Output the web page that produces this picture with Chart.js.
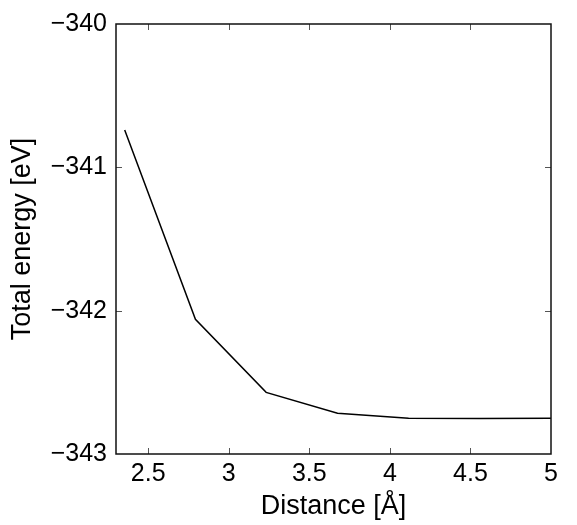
<!DOCTYPE html>
<html>
<head>
<meta charset="utf-8">
<script src="https://cdn.jsdelivr.net/npm/chart.js@4/dist/chart.umd.min.js"></script>
<style>
  html, body { margin: 0; padding: 0; background: #ffffff; }
  #wrap { width: 577px; height: 525px; }
</style>
</head>
<body>
<div id="wrap"><canvas id="c" width="577" height="525"></canvas></div>
<script>
const distances = [2.354, 2.793, 3.232, 3.675, 4.116, 4.557, 5.0];
const energies = [-340.74, -342.06, -342.57, -342.715, -342.75, -342.752, -342.75];
const xTicks = [2.5, 3, 3.5, 4, 4.5, 5];
const yTicks = [-343, -342, -341, -340];
const xTitle = "Distance [Å]";
const yTitle = "Total energy [eV]";

const fmt = v => (v < 0 ? "\u2212" + String(Math.abs(v)) : String(v));

const framePlugin = {
  id: 'frame',
  afterDatasetsDraw(chart) {
    const ctx = chart.ctx;
    const a = chart.chartArea;
    const xs = chart.scales.x, ys = chart.scales.y;
    ctx.save();
    ctx.strokeStyle = '#555555';
    ctx.lineWidth = 1;
    const L = 6;
    xs.ticks.forEach((t, i) => {
      const px = Math.round(xs.getPixelForTick(i)) + 0.5;
      if (px < a.left + 2 || px > a.right - 2) return;
      ctx.beginPath();
      ctx.moveTo(px, a.bottom); ctx.lineTo(px, a.bottom - L);
      ctx.moveTo(px, a.top); ctx.lineTo(px, a.top + L);
      ctx.stroke();
    });
    ys.ticks.forEach((t, i) => {
      const py = Math.round(ys.getPixelForTick(i)) + 0.5;
      if (py < a.top + 2 || py > a.bottom - 2) return;
      ctx.beginPath();
      ctx.moveTo(a.left, py); ctx.lineTo(a.left + L, py);
      ctx.moveTo(a.right, py); ctx.lineTo(a.right - L, py);
      ctx.stroke();
    });
    ctx.strokeStyle = '#111111';
    ctx.lineWidth = 1.5;
    ctx.strokeRect(a.left, a.top, a.right - a.left, a.bottom - a.top);
    ctx.restore();
  }
};

new Chart(document.getElementById('c'), {
  type: 'line',
  data: {
    datasets: [{
      data: distances.map((d, i) => ({ x: d, y: energies[i] })),
      borderColor: '#000000',
      borderWidth: 1.5,
      pointRadius: 0,
      tension: 0,
      fill: false
    }]
  },
  options: {
    responsive: false,
    animation: false,
    devicePixelRatio: 1,
    layout: { padding: { top: 21, right: 26, bottom: 0, left: 0 } },
    plugins: { legend: { display: false }, tooltip: { enabled: false } },
    scales: {
      x: {
        type: 'linear',
        min: 2.3, max: 5,
        afterBuildTicks: s => { s.ticks = xTicks.map(v => ({ value: v })); },
        afterFit: s => { s.height = 71; },
        grid: { display: false, drawTicks: false },
        border: { display: false },
        ticks: {
          color: '#000000',
          font: { family: 'Liberation Sans, Arial, sans-serif', size: 25 },
          padding: 5,
          maxRotation: 0,
          autoSkip: false,
          callback: v => fmt(v)
        },
        title: {
          display: true,
          text: xTitle,
          color: '#000000',
          font: { family: 'Liberation Sans, Arial, sans-serif', size: 27 },
          padding: { top: 0, bottom: 2 }
        }
      },
      y: {
        type: 'linear',
        min: -343, max: -340,
        afterBuildTicks: s => { s.ticks = yTicks.map(v => ({ value: v })); },
        afterFit: s => { s.width = 116; },
        grid: { display: false, drawTicks: false },
        border: { display: false },
        ticks: {
          color: '#000000',
          font: { family: 'Liberation Sans, Arial, sans-serif', size: 25 },
          padding: 9,
          autoSkip: false,
          callback: v => fmt(v)
        },
        title: {
          display: true,
          text: yTitle,
          color: '#000000',
          font: { family: 'Liberation Sans, Arial, sans-serif', size: 27 },
          padding: { top: 6, bottom: 0 }
        }
      }
    }
  },
  plugins: [framePlugin]
});
</script>
</body>
</html>
